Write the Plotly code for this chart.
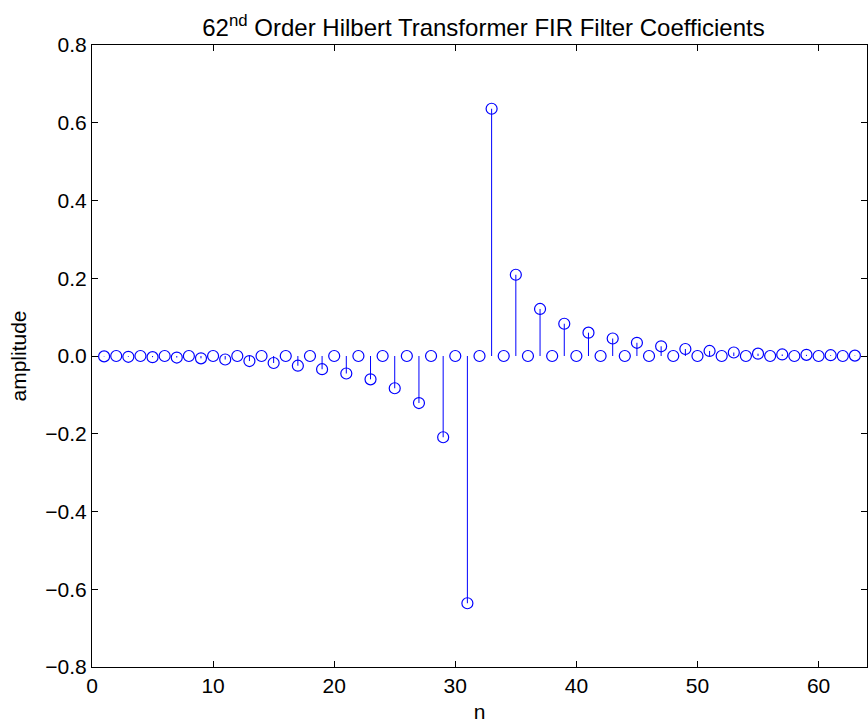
import plotly.graph_objects as go

n = list(range(1, 64))
# coefficient values (odd offsets from the centre n=32)
neg_vals = {1: -0.001, 3: -0.002, 5: -0.003, 7: -0.004, 9: -0.006, 11: -0.009,
            13: -0.013, 15: -0.018, 17: -0.025, 19: -0.034, 21: -0.045,
            23: -0.060, 25: -0.083, 27: -0.121, 29: -0.209, 31: -0.636}
pos_vals = {33: 0.636, 35: 0.209, 37: 0.121, 39: 0.083, 41: 0.060, 43: 0.045,
            45: 0.034, 47: 0.025, 49: 0.018, 51: 0.013, 53: 0.009, 55: 0.006,
            57: 0.004, 59: 0.003, 61: 0.002, 63: 0.001}
h = [neg_vals.get(k, pos_vals.get(k, 0.0)) for k in n]

x_ticks = [0, 10, 20, 30, 40, 50, 60]
y_ticks = [-0.8, -0.6, -0.4, -0.2, 0, 0.2, 0.4, 0.6, 0.8]

stem_x, stem_y = [], []
for xi, yi in zip(n, h):
    stem_x += [xi, xi, None]
    stem_y += [0, yi, None]

blue = "#0000FF"
fig = go.Figure()
fig.add_trace(go.Scatter(x=stem_x, y=stem_y, mode="lines",
                         line=dict(color=blue, width=1), hoverinfo="skip",
                         showlegend=False))
fig.add_trace(go.Scatter(x=n, y=h, mode="markers",
                         marker=dict(symbol="circle-open", size=11,
                                     color=blue, line=dict(width=1.2, color=blue)),
                         showlegend=False))

font = "Liberation Sans, Arial, sans-serif"
fig.update_layout(
    width=868, height=725,
    margin=dict(l=92, r=1, t=45, b=58),
    paper_bgcolor="white", plot_bgcolor="white",
    font=dict(family=font, size=21, color="black"),
    title=dict(text="62<sup>nd</sup> Order Hilbert Transformer FIR Filter Coefficients",
               x=0.557, xanchor="center", y=0.962, yanchor="middle",
               font=dict(family=font, size=24, color="black")),
    xaxis=dict(range=[0, 64], tickvals=x_ticks, ticks="inside", ticklen=6,
               tickcolor="black", showgrid=False, zeroline=False,
               showline=True, linecolor="black", linewidth=1, mirror="ticks",
               title=dict(text="n", standoff=8, font=dict(size=21)),
               tickfont=dict(size=21), automargin=False),
    yaxis=dict(range=[-0.8, 0.8], tickvals=y_ticks, ticks="inside", ticklen=6,
               tickcolor="black", showgrid=False, zeroline=False,
               showline=True, linecolor="black", linewidth=1, mirror="ticks",
               tickformat=".1f", automargin=False,
               title=dict(text="amplitude", standoff=12, font=dict(size=21)),
               tickfont=dict(size=21)),
)
fig.write_html("out.html", config={"displayModeBar": False},
               post_script="document.body.style.margin='0';document.body.style.overflow='hidden';")
